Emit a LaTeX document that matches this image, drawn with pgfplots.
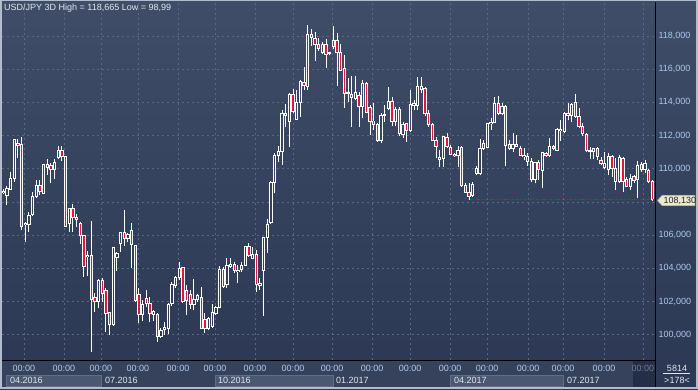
\documentclass[border=0pt]{standalone}
\usepackage{pgfplots}
\pgfplotsset{compat=1.18}
\usepackage{pgfplotstable}
\usepackage{fontspec}
\setmainfont{Liberation Sans}
\definecolor{bgtop}{RGB}{63,77,104}
\definecolor{bgbot}{RGB}{43,55,83}
\definecolor{gridc}{RGB}{90,104,130}
\definecolor{lblue}{RGB}{172,202,236}
\definecolor{candred}{RGB}{228,20,62}
\definecolor{strip}{RGB}{54,66,92}
\definecolor{mbox}{RGB}{74,88,114}
\definecolor{mboxd}{RGB}{98,110,134}
\definecolor{darkbox}{RGB}{36,46,70}
\definecolor{framec}{RGB}{178,188,204}
\definecolor{txt}{RGB}{226,231,239}
\definecolor{grayl}{RGB}{110,122,145}
\definecolor{pbox}{RGB}{236,234,202}
\definecolor{ptxt}{RGB}{30,36,50}
\definecolor{reddot}{RGB}{205,25,50}
\pgfplotstableread{
i O H L C
0 108.58 108.76 108.48 108.66
1 108.38 108.96 107.82 108.82
2 108.76 109.83 108.72 109.43
3 109.43 111.80 109.22 111.76
4 111.53 111.80 110.63 111.43
5 111.47 111.90 106.31 106.51
6 106.62 106.82 105.57 106.70
7 106.62 107.38 106.21 107.18
8 107.22 108.62 107.18 108.36
9 108.32 109.33 108.22 109.02
10 109.02 109.33 108.42 108.62
11 108.52 110.27 108.46 110.23
12 110.23 110.57 109.63 110.07
13 110.19 110.33 109.12 109.95
14 109.97 110.57 109.37 110.37
15 110.67 111.39 110.57 111.13
16 111.13 111.39 110.47 110.73
17 110.73 110.75 106.51 106.55
18 106.68 107.62 106.21 107.58
19 107.58 107.90 106.21 107.06
20 107.06 107.26 106.51 106.94
21 106.72 106.82 105.45 106.01
22 106.01 106.03 103.50 104.11
23 104.71 105.05 103.56 104.79
24 104.75 106.86 98.99 102.14
25 102.26 102.50 101.40 102.00
26 102.00 103.36 101.64 103.26
27 103.26 103.40 102.00 102.50
28 102.66 102.80 100.19 101.29
29 101.35 101.39 99.99 100.59
30 100.59 105.31 100.55 105.25
31 104.67 105.01 103.87 104.87
32 105.51 106.21 105.01 106.17
33 106.17 107.52 105.37 105.81
34 105.81 106.13 105.57 106.05
35 106.31 106.72 104.00 105.41
36 105.37 105.39 101.96 102.04
37 102.44 102.84 100.69 101.23
38 101.23 102.10 100.83 101.84
39 102.20 102.70 101.70 101.90
40 101.90 102.30 100.79 101.29
41 101.23 101.49 100.83 101.43
42 101.23 101.29 99.59 99.89
43 99.89 100.43 99.79 100.23
44 100.29 100.75 99.99 100.43
45 100.39 101.90 100.03 101.84
46 101.90 103.20 101.76 103.00
47 102.96 103.54 102.80 103.44
48 103.44 104.37 103.30 104.00
49 104.06 104.10 101.90 102.00
50 102.64 103.00 101.19 102.04
51 102.40 102.70 101.55 101.84
52 101.84 103.36 101.49 102.10
53 102.10 102.46 102.00 102.34
54 102.24 102.90 100.33 100.35
55 100.95 101.29 100.09 100.39
56 100.39 101.09 100.29 100.99
57 100.49 101.84 100.43 101.35
58 101.29 101.76 101.19 101.63
59 101.63 104.16 101.59 103.96
60 103.96 104.10 102.84 102.90
61 103.04 104.65 102.80 104.20
62 104.14 104.65 104.00 104.24
63 104.24 104.41 103.70 103.90
64 103.80 104.20 103.14 103.90
65 103.94 104.41 103.80 104.20
66 104.20 105.37 104.16 105.29
67 105.29 105.51 104.71 104.77
68 104.61 105.27 104.55 104.85
69 104.85 105.11 102.56 103.00
70 102.96 103.40 102.70 103.10
71 103.86 105.91 101.13 105.87
72 105.87 106.96 104.95 106.67
73 106.75 109.28 106.67 109.18
74 109.18 110.93 108.52 110.83
75 110.79 111.37 110.43 111.07
76 111.03 113.54 110.23 113.34
77 113.34 113.88 112.54 113.20
78 112.84 114.55 111.33 114.45
79 114.45 114.79 113.34 113.44
80 113.00 114.75 112.94 114.00
81 113.98 115.35 113.14 115.25
82 115.21 116.11 114.75 114.99
83 114.95 118.665 114.75 118.10
84 118.10 118.40 117.42 117.92
85 117.86 118.22 116.51 117.50
86 117.50 117.86 117.12 117.26
87 116.99 117.62 116.89 117.46
88 117.46 117.80 116.05 116.89
89 117.00 117.06 116.84 116.95
90 117.36 118.60 117.20 117.76
91 117.76 118.16 114.99 116.99
92 117.01 117.52 115.91 115.95
93 116.05 116.86 113.68 114.55
94 114.57 115.45 114.04 114.53
95 114.45 115.59 112.54 114.30
96 114.24 115.59 114.14 114.61
97 114.39 114.65 112.50 113.74
98 113.74 115.35 113.04 115.11
99 115.11 115.25 113.34 113.38
100 113.70 113.84 112.04 112.84
101 112.88 113.98 112.34 112.68
102 112.68 112.78 111.64 111.70
103 111.70 113.34 111.57 113.24
104 113.22 113.84 112.84 113.26
105 113.64 114.95 113.54 114.08
106 114.08 114.30 112.58 112.84
107 112.84 113.75 112.60 113.58
108 113.55 113.70 111.95 112.10
109 112.04 112.84 111.84 112.64
110 112.70 112.78 111.63 112.30
111 112.30 114.75 112.24 113.90
112 113.84 114.14 113.54 113.94
113 113.84 115.55 113.54 114.95
114 114.95 115.55 114.55 114.79
115 114.85 114.95 113.18 113.34
116 113.34 113.54 112.54 112.64
117 112.64 112.74 111.67 111.73
118 111.73 111.90 110.63 111.33
119 110.57 111.13 110.09 110.67
120 110.63 111.98 110.09 111.93
121 111.89 112.18 111.23 111.37
122 111.29 111.43 110.83 110.87
123 110.87 110.97 110.73 110.79
124 110.79 111.37 110.09 111.09
125 111.29 111.37 108.92 109.02
126 109.02 109.16 108.52 108.56
127 108.58 109.16 108.12 108.36
128 108.38 109.18 108.32 109.06
129 109.73 110.17 109.63 110.03
130 109.73 111.78 109.63 111.23
131 111.23 111.74 111.13 111.53
132 111.27 112.78 111.23 112.74
133 112.70 113.04 112.34 112.78
134 112.78 114.34 112.74 113.94
135 113.94 114.39 113.24 113.34
136 113.34 113.94 113.24 113.78
137 113.78 113.84 110.17 111.43
138 111.47 111.74 111.13 111.23
139 111.23 112.14 111.03 111.49
140 111.47 112.04 111.29 111.37
141 111.23 111.37 110.77 110.83
142 110.73 111.23 110.53 110.83
143 110.77 110.93 110.17 110.43
144 110.43 110.63 109.22 109.36
145 109.36 110.43 109.12 110.37
146 110.37 110.53 109.33 109.93
147 109.89 111.03 108.82 110.97
148 110.93 111.00 110.70 110.83
149 110.83 111.84 110.73 111.33
150 111.37 111.43 111.13 111.23
151 111.13 112.44 111.09 112.34
152 112.30 112.94 111.69 112.38
153 112.24 113.44 112.14 113.34
154 113.34 113.94 112.94 113.24
155 113.24 113.98 112.84 113.90
156 113.98 114.51 113.04 113.14
157 113.18 113.64 112.44 112.54
158 112.54 112.74 111.98 112.10
159 112.04 112.14 111.03 111.09
160 111.13 111.33 110.57 111.07
161 111.07 111.27 110.57 111.23
162 111.23 111.29 110.53 110.73
163 110.53 110.73 110.23 110.29
164 110.07 111.03 109.97 110.29
165 109.97 110.97 109.63 110.73
166 110.73 110.83 109.53 110.03
167 109.22 110.63 108.72 110.03
168 109.22 110.83 109.12 110.67
169 110.63 110.69 108.62 109.22
170 109.36 109.49 108.88 108.92
171 108.96 109.69 108.72 109.42
172 109.53 109.63 109.16 109.29
173 109.33 110.49 108.22 110.17
174 110.23 110.43 109.83 109.93
175 109.93 110.53 109.73 110.29
176 109.89 109.97 109.12 109.22
177 109.22 109.33 108.05 108.13
}\candles
\begin{document}
\begin{tikzpicture}[x=1bp,y=1bp,font=\fontsize{9bp}{10.5bp}\selectfont]
\useasboundingbox (0,0) rectangle (698,389);
\shade[top color=bgtop, bottom color=bgbot] (0,0) rectangle (698,389);
% bottom time strip
\fill[strip] (2,2.5) rectangle (655,29);
\filldraw[fill=mbox, draw=mboxd, line width=0.8bp] (6,2.5) rectangle (101,14);
\filldraw[fill=mbox, draw=mboxd, line width=0.8bp] (215,2.5) rectangle (333,14);
\filldraw[fill=mbox, draw=mboxd, line width=0.8bp] (450,2.5) rectangle (563,14);
\fill[darkbox] (633,2.5) rectangle (655,28.5);
\begin{axis}[
  at={(2bp,29bp)}, anchor=south west,
  width=653bp, height=358bp, scale only axis,
  xmin=-0.355, xmax=177.72, ymin=98.48, ymax=120.05,
  axis line style={draw=none}, tick style={draw=none},
  major tick length=0pt,
  grid=major,
  major grid style={draw=gridc, line width=0.8bp, dash pattern=on 2bp off 3bp},
  ytick={100,102,104,106,110,112,114,116,118},
  extra y ticks={108}, extra y tick labels={},
  extra y tick style={grid=major, major grid style={draw=gridc, line width=0.8bp, dash pattern=on 2bp off 3bp}},
  yticklabel pos=right,
  yticklabel style={anchor=west, inner sep=0pt, xshift=3.3bp, text=lblue,
    font=\fontsize{9bp}{10.5bp}\selectfont,
    /pgf/number format/fixed, /pgf/number format/fixed zerofill,
    /pgf/number format/precision=3, /pgf/number format/use comma,
    /pgf/number format/1000 sep={}, /pgf/number format/assume math mode=true},
  xtick={5.64,16.55,26.64,36.73,47.64,57.73,68.64,79.00,89.64,100.55,110.91,121.82,131.91,143.09,152.63,163.81,174.44},
  xticklabels={00:00,00:00,00:00,00:00,00:00,00:00,00:00,00:00,00:00,00:00,00:00,00:00,00:00,00:00,00:00,00:00,\textcolor{grayl}{00:00}},
  xticklabel style={anchor=center, yshift=-8.5bp, inner sep=0pt, text=lblue,
    font=\fontsize{9bp}{10.5bp}\selectfont},
  colormap={bgmap}{rgb255=(43,55,83) rgb255=(63,77,104)},
  point meta min=96.73, point meta max=120.17,
]
% wicks
\addplot[white, line width=1bp,
  quiver={u=0, v=\thisrow{H}-\thisrow{L},
    every arrow/.append style={line width=1bp, line cap=butt}}]
  table[x=i, y=L]{\candles};
% body outline
\addplot[white,
  quiver={u=0, v={abs(\thisrow{C}-\thisrow{O})+0.06},
    every arrow/.append style={line width=3.4bp, line cap=butt}}]
  table[x=i, y expr={min(\thisrow{O},\thisrow{C})-0.03}]{\candles};
% down bodies
\addplot[candred,
  restrict expr to domain={\thisrow{O}-\thisrow{C}}{0.00001:100},
  quiver={u=0, v={max(abs(\thisrow{C}-\thisrow{O})-0.06,0)},
    every arrow/.append style={line width=1.5bp, line cap=butt}}]
  table[x=i, y expr={min(\thisrow{O},\thisrow{C})+0.03}]{\candles};
% up bodies (hollow)
\addplot[point meta=y,
  restrict expr to domain={\thisrow{C}-\thisrow{O}}{0:100},
  quiver={u=0, v={max(abs(\thisrow{C}-\thisrow{O})-0.06,0)}, colored=mapped color,
    every arrow/.append style={line width=1.5bp, line cap=butt}}]
  table[x=i, y expr={min(\thisrow{O},\thisrow{C})+0.03}]{\candles};
% last price line
\addplot[draw=reddot, line width=1bp, dash pattern=on 1.3bp off 1.3bp]
  coordinates {(126.7,108.13) (177.72,108.13)};
\end{axis}
% separators
\draw[black, line width=1bp] (2,29) -- (655,29);
\draw[black, line width=1bp] (655,2.5) -- (655,387);
% price box
\filldraw[fill=pbox, draw=ptxt!70, line width=0.5bp]
  (657,188.5) -- (662,193.8) -- (695,193.8) -- (695,183.2) -- (662,183.2) -- cycle;
\node[anchor=west, inner sep=0pt, text=ptxt] at (663.5,188.5) {108,130};
% title
\node[anchor=west, inner sep=0pt, text=txt] at (4,381) {USD/JPY 3D High = 118,665 Low = 98,99};
% month labels
\foreach \xx/\tt in {10/04.2016, 105/07.2016, 218/10.2016, 336/01.2017, 454/04.2017, 567/07.2017}
  \node[anchor=west, inner sep=0pt, text=txt] at (\xx,8.5) {\tt};
% right bottom info
\node[inner sep=0pt, text=txt] at (677,21) {5814};
\draw[txt, line width=0.6bp] (663,15.5) -- (690,15.5);
\node[inner sep=0pt, text=txt] at (677,8.5) {>178<};
% frame
\fill[framec] (0,0) rectangle (1.8,389);
\fill[framec] (0,0) rectangle (698,2.5);
\fill[framec] (695.5,0) rectangle (698,389);
\fill[framec] (0,388.2) rectangle (698,389);
\end{tikzpicture}
\end{document}
